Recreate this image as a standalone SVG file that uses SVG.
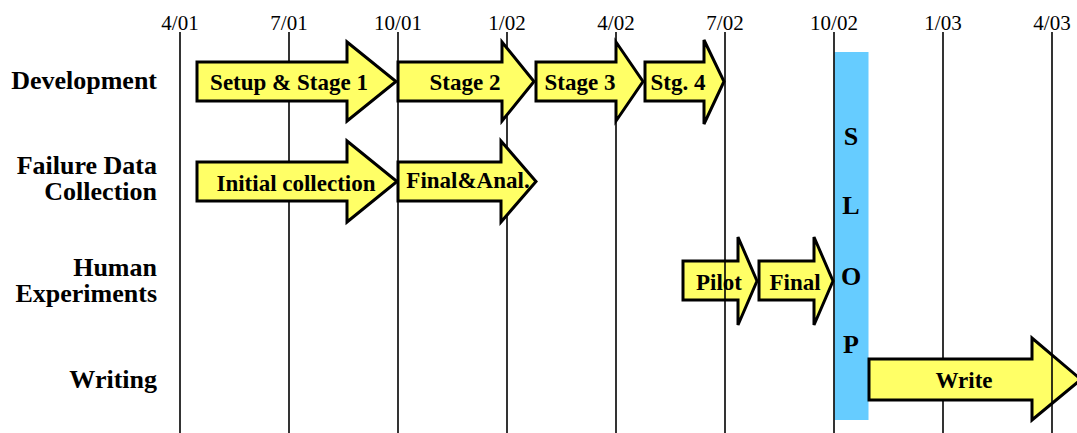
<svg xmlns="http://www.w3.org/2000/svg" width="1077" height="433" viewBox="0 0 1077 433">
<style>
text{font-family:"Liberation Serif","Times New Roman",serif;fill:#000}
.tick{font-size:21px;text-anchor:middle}
.row{font-size:26px;font-weight:bold;text-anchor:end}
.lab{font-size:23px;font-weight:bold;text-anchor:middle}
.slop{font-size:26px;font-weight:bold;text-anchor:middle}
.grid{stroke:#000;stroke-width:1.6;fill:none}
.arrow{fill:#FFFF66;stroke:#000;stroke-width:3;stroke-linejoin:miter}
</style>
<rect width="1077" height="433" fill="#fff"/>
<g id="axis">
<text class="tick" x="180" y="30">4/01</text>
<text class="tick" x="289" y="30">7/01</text>
<text class="tick" x="398" y="30">10/01</text>
<text class="tick" x="507" y="30">1/02</text>
<text class="tick" x="616" y="30">4/02</text>
<text class="tick" x="725" y="30">7/02</text>
<text class="tick" x="834" y="30">10/02</text>
<text class="tick" x="943" y="30">1/03</text>
<text class="tick" x="1052" y="30">4/03</text>
</g>
<g id="grid" class="grid">
<line x1="180" y1="32" x2="180" y2="433"/>
<line x1="289" y1="32" x2="289" y2="433"/>
<line x1="398" y1="32" x2="398" y2="433"/>
<line x1="507" y1="32" x2="507" y2="433"/>
<line x1="616" y1="32" x2="616" y2="433"/>
<line x1="943" y1="32" x2="943" y2="433"/>
</g>
<g id="rows">
<text class="row" x="157" y="89">Development</text>
<text class="row" x="157" y="174">Failure Data</text>
<text class="row" x="157" y="200">Collection</text>
<text class="row" x="157" y="276">Human</text>
<text class="row" x="157" y="302">Experiments</text>
<text class="row" x="157" y="388">Writing</text>
</g>
<g id="slop">
<rect x="834.5" y="52" width="34" height="368" fill="#66CCFF"/>
<text class="slop" x="851" y="145">S</text>
<text class="slop" x="851" y="214">L</text>
<text class="slop" x="851" y="285">O</text>
<text class="slop" x="851" y="353">P</text>
</g>
<g id="connectors">
<g id="setup">
<path class="arrow" d="M197,62 H347 V42 L396,81.5 L347,121 V101 H197 Z"/>
<text class="lab" x="289" y="90">Setup &amp; Stage 1</text>
</g>
<g id="stage2">
<path class="arrow" d="M398,62 H502 V42 L534,81.5 L502,121 V101 H398 Z"/>
<text class="lab" x="465" y="90">Stage 2</text>
</g>
<g id="stage3">
<path class="arrow" d="M536,62 H616 V42 L643,81.5 L616,121 V101 H536 Z"/>
<text class="lab" x="580" y="90">Stage 3</text>
</g>
<g id="stage4">
<path class="arrow" d="M645,62 H704 V40 L724,81.5 L704,124 V101 H645 Z"/>
<text class="lab" x="678" y="90">Stg. 4</text>
</g>
<g id="initial">
<path class="arrow" d="M197,162 H347 V141 L397,181.5 L347,222 V201 H197 Z"/>
<text class="lab" x="296" y="191">Initial collection</text>
</g>
<g id="finalanal">
<path class="arrow" d="M398,162 H501 V141 L536,181.5 L501,222 V201 H398 Z"/>
<text class="lab" x="468" y="188">Final&amp;Anal.</text>
</g>
<g id="pilot">
<path class="arrow" d="M683,261 H738 V237 L757,281 L738,325 V300 H683 Z"/>
<text class="lab" x="719" y="290">Pilot</text>
</g>
<g id="final">
<path class="arrow" d="M759,261 H814 V237 L833,281 L814,325 V300 H759 Z"/>
<text class="lab" x="795" y="290">Final</text>
</g>
<g id="write">
<path class="arrow" d="M869,359 H1032 V338 L1081,379.5 L1032,420 V400 H869 Z"/>
<text class="lab" x="964" y="388">Write</text>
</g>
</g>
<g id="grid-top" class="grid">
<line x1="725" y1="32" x2="725" y2="433"/>
<line x1="834" y1="32" x2="834" y2="433"/>
<line x1="1052" y1="32" x2="1052" y2="433"/>
</g>
</svg>
